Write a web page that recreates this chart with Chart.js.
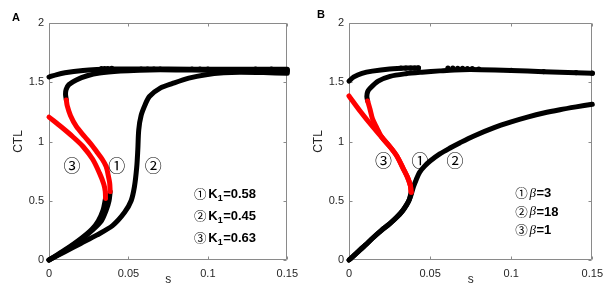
<!DOCTYPE html>
<html><head><meta charset="utf-8">
<script src="https://cdn.jsdelivr.net/npm/chart.js@4.4.1/dist/chart.umd.min.js"></script>
<style>
html,body{margin:0;padding:0;background:#fff;}
#wrap{position:relative;width:610px;height:288px;overflow:hidden;background:#fff;}
canvas{position:absolute;top:0;}
</style></head><body>
<div id="wrap">
<canvas id="ca" width="305" height="288" style="left:0px"></canvas>
<canvas id="cb" width="305" height="288" style="left:305px"></canvas>
</div>
<script>
// ---------- axes ----------
const xTicks = [0, 0.05, 0.1, 0.15];
const xTickLabels = ['0', '0.05', '0.1', '0.15'];
const yTicks = [0, 0.5, 1, 1.5, 2];
const yTickLabels = ['0', '0.5', '1', '1.5', '2'];
const circled = ['\u2460', '\u2461', '\u2462'];

// ---------- Panel A (K1) ----------
const kValues = ['0.58', '0.45', '0.63'];
// curve 1 : K1 = 0.58
const A1_low_s = [0, 0.01, 0.02, 0.028, 0.033, 0.036, 0.0378, 0.0385];
const A1_low_y = [0, 0.08, 0.17, 0.26, 0.33, 0.42, 0.5, 0.577];
const A1_red_s = [0.0385, 0.0382, 0.0372, 0.036, 0.0335, 0.0305, 0.0276, 0.0225, 0.0172, 0.0135, 0.0115, 0.0109];
const A1_red_y = [0.577, 0.65, 0.72, 0.789, 0.85, 0.905, 0.958, 1.04, 1.127, 1.22, 1.3, 1.35];
const A1_up_s = [0.0109, 0.0104, 0.0108, 0.0125, 0.0172, 0.024, 0.0318, 0.045, 0.057, 0.07, 0.09, 0.11, 0.13, 0.15];
const A1_up_y = [1.35, 1.4, 1.44, 1.48, 1.52, 1.555, 1.578, 1.595, 1.602, 1.605, 1.603, 1.6, 1.595, 1.59];
// curve 2 : K1 = 0.45
const A2_s = [0, 0.01, 0.02, 0.03, 0.04, 0.0475, 0.0517, 0.0538, 0.0552, 0.0559, 0.0565, 0.058, 0.0605, 0.0632, 0.07, 0.0778, 0.088, 0.0988, 0.11, 0.12, 0.135, 0.15];
const A2_y = [0, 0.07, 0.14, 0.21, 0.29, 0.4, 0.5, 0.62, 0.78, 0.93, 1.1, 1.22, 1.31, 1.38, 1.45, 1.49, 1.535, 1.564, 1.58, 1.585, 1.582, 1.575];
// curve 3 : K1 = 0.63
const A3_low_s = [0, 0.01, 0.02, 0.027, 0.031, 0.034, 0.0356];
const A3_low_y = [0, 0.085, 0.18, 0.26, 0.33, 0.42, 0.52];
const A3_red_s = [0.0356, 0.0354, 0.0345, 0.0318, 0.0275, 0.0214, 0.015, 0.008, 0];
const A3_red_y = [0.52, 0.58, 0.64, 0.733, 0.85, 0.958, 1.04, 1.12, 1.206];
const A3_up_s = [0, 0.005, 0.01, 0.0214, 0.03, 0.04, 0.06, 0.09, 0.12, 0.15];
const A3_up_y = [1.544, 1.565, 1.58, 1.6, 1.608, 1.612, 1.612, 1.61, 1.61, 1.61];
// marker blobs on the upper branch
const A_dot_s = [0.033, 0.035, 0.037, 0.0395, 0.058, 0.062, 0.066, 0.07, 0.09, 0.095, 0.1, 0.13, 0.14, 0.145, 0.15];
const A_dot_y = [1.615, 1.615, 1.616, 1.617, 1.612, 1.612, 1.612, 1.612, 1.612, 1.612, 1.612, 1.61, 1.61, 1.6, 1.6];

// ---------- Panel B (beta) ----------
const betaValues = ['3', '18', '1'];
// shared lower branch of curves 1 and 3
const B13_low_s = [0, 0.005, 0.01, 0.015, 0.02, 0.025, 0.0294, 0.033, 0.0355, 0.0372, 0.0383];
const B13_low_y = [0, 0.062, 0.125, 0.19, 0.25, 0.305, 0.36, 0.415, 0.465, 0.51, 0.571];
// curve 1 : beta = 3
const B1_red_s = [0.0383, 0.0378, 0.036, 0.0335, 0.0294, 0.025, 0.02, 0.0171, 0.0145, 0.013, 0.0115];
const B1_red_y = [0.571, 0.63, 0.7, 0.77, 0.88, 0.96, 1.04, 1.118, 1.19, 1.27, 1.342];
const B1_up_s = [0.0115, 0.011, 0.0115, 0.013, 0.018, 0.0253, 0.035, 0.045, 0.056, 0.065, 0.075, 0.09, 0.11, 0.13, 0.15];
const B1_up_y = [1.342, 1.38, 1.42, 1.45, 1.51, 1.55, 1.572, 1.585, 1.596, 1.604, 1.607, 1.603, 1.594, 1.585, 1.575];
// curve 2 : beta = 18
const B2_s = [0, 0.005, 0.01, 0.015, 0.02, 0.025, 0.0294, 0.033, 0.0355, 0.0372, 0.0385, 0.0398, 0.0415, 0.0435, 0.0465, 0.05, 0.056, 0.0623, 0.0685, 0.0767, 0.0891, 0.1, 0.11, 0.12, 0.13, 0.14, 0.15];
const B2_y = [0, 0.062, 0.125, 0.19, 0.25, 0.305, 0.36, 0.415, 0.465, 0.51, 0.56, 0.62, 0.68, 0.74, 0.79, 0.835, 0.895, 0.945, 0.99, 1.045, 1.115, 1.165, 1.205, 1.24, 1.268, 1.292, 1.314];
// curve 3 : beta = 1
const B3_red_s = [0.0383, 0.0378, 0.036, 0.0335, 0.0294, 0.025, 0.02, 0.015, 0.0068, 0];
const B3_red_y = [0.571, 0.63, 0.7, 0.77, 0.88, 0.96, 1.04, 1.118, 1.258, 1.384];
const B3_up_s = [0, 0.003, 0.008, 0.0144, 0.025, 0.0356, 0.0428];
const B3_up_y = [1.51, 1.545, 1.575, 1.594, 1.612, 1.62, 1.62];
const B_dot_s = [0.032, 0.035, 0.038, 0.0405, 0.0428, 0.061, 0.064, 0.067, 0.07, 0.073, 0.076, 0.08, 0.1, 0.12, 0.14, 0.15];
const B_dot_y = [1.62, 1.62, 1.62, 1.62, 1.622, 1.62, 1.62, 1.618, 1.618, 1.616, 1.615, 1.612, 1.6, 1.59, 1.582, 1.577];

// ---------- helpers ----------
const pts = (s, y) => s.map((v, i) => ({x: v, y: y[i]}));
const RED = '#ff0000', BLK = '#000000';
function line(s, y, color) {
  return {data: pts(s, y), showLine: true, borderColor: color, backgroundColor: color,
    borderWidth: 5, pointRadius: 0, tension: 0.3, borderCapStyle: 'round',
    borderJoinStyle: 'round', clip: false};
}
function dots(s, y) {
  return {data: pts(s, y), showLine: false, pointRadius: 2.6, pointBorderWidth: 0,
    pointBackgroundColor: BLK, backgroundColor: BLK, borderColor: BLK, clip: false};
}

const FONT = "'Liberation Sans', Arial, Helvetica, sans-serif";
const TXT = '#262626';
const AXC = '#8a8a8a';

const framePlugin = {
  id: 'frame',
  beforeDatasetsDraw(chart) {
    const {ctx, chartArea: ca, scales: {x, y}} = chart;
    const L = Math.round(ca.left) + 0.5, R = Math.round(ca.right) - 0.5;
    const T = Math.round(ca.top) + 0.5, B = Math.round(ca.bottom) - 0.5;
    ctx.save();
    ctx.strokeStyle = AXC; ctx.lineWidth = 1;
    ctx.beginPath();
    ctx.rect(L, T, R - L, B - T);
    xTicks.forEach(v => {
      const px = Math.round(x.getPixelForValue(v)) + 0.5;
      ctx.moveTo(px, B); ctx.lineTo(px, B - 3);
      ctx.moveTo(px, T); ctx.lineTo(px, T + 3);
    });
    yTicks.forEach(v => {
      const py = Math.round(y.getPixelForValue(v)) + 0.5;
      ctx.moveTo(L, py); ctx.lineTo(L + 3, py);
      ctx.moveTo(R, py); ctx.lineTo(R - 3, py);
    });
    ctx.stroke();
    ctx.restore();
  }
};

const annotPlugin = {
  id: 'annot',
  afterDraw(chart, args, o) {
    const {ctx, scales: {x, y}} = chart;
    ctx.save();
    ctx.fillStyle = '#000';
    ctx.textBaseline = 'middle';
    // panel letter
    ctx.font = 'bold 11px ' + FONT;
    ctx.textAlign = 'center';
    ctx.fillText(o.letter, o.letterX, o.letterY);
    // curve labels
    ctx.font = "17px 'Noto Sans CJK SC'";
    o.curveLabels.forEach(l => {
      ctx.fillText(l.t, x.getPixelForValue(l.s), y.getPixelForValue(l.v));
    });
    // legend
    o.legendRows.forEach(r => {
      const cx = x.getPixelForValue(o.legendS);
      const cy = y.getPixelForValue(r.v);
      ctx.textAlign = 'center';
      ctx.font = "12.5px 'Noto Sans CJK SC'";
      ctx.fillText(r.c, cx, cy);
      ctx.textAlign = 'left';
      let px = cx + 8;
      r.runs.forEach(run => {
        ctx.font = run.f;
        ctx.fillText(run.t, px, cy + (run.dy || 0));
        px += ctx.measureText(run.t).width + (run.gap || 0);
      });
    });
    ctx.restore();
  }
};

function makeChart(id, datasets, yWidth, annot) {
  return new Chart(document.getElementById(id), {
    type: 'scatter',
    data: {datasets},
    plugins: [framePlugin, annotPlugin],
    options: {
      responsive: false, animation: false, events: [],
      layout: {padding: {left: 0, right: 17, top: 23, bottom: 0}},
      plugins: {legend: {display: false}, tooltip: {enabled: false}, annot},
      scales: {
        x: {
          type: 'linear', min: 0, max: 0.15,
          afterBuildTicks: s => { s.ticks = xTicks.map(v => ({value: v})); },
          afterFit: s => { s.height = 28; },
          ticks: {callback: (v, i) => xTickLabels[i], autoSkip: false, maxRotation: 0,
            font: {family: FONT, size: 11}, color: TXT, padding: 7},
          grid: {display: false, drawTicks: false},
          border: {display: false},
          title: {display: true, text: 's', font: {family: FONT, size: 12}, color: TXT,
            padding: {top: 0, bottom: 1}}
        },
        y: {
          type: 'linear', min: 0, max: 2,
          afterBuildTicks: s => { s.ticks = yTicks.map(v => ({value: v})); },
          afterFit: s => { s.width = yWidth; },
          ticks: {callback: (v, i) => yTickLabels[i], autoSkip: false,
            font: {family: FONT, size: 11}, color: TXT, padding: 5},
          grid: {display: false, drawTicks: false},
          border: {display: false},
          title: {display: true, text: 'CTL', font: {family: FONT, size: 12}, color: TXT,
            padding: {top: yWidth - 38, bottom: 0}}
        }
      }
    }
  });
}

const kRuns = v => [
  {t: 'K', f: 'bold 13px ' + FONT},
  {t: '1', f: 'bold 9px ' + FONT, dy: 4, gap: 0.5},
  {t: '=' + v, f: 'bold 13px ' + FONT}
];
const bRuns = v => [
  {t: '\u03B2', f: "italic 13px 'Liberation Serif', serif", gap: 0.5},
  {t: '=' + v, f: 'bold 13px ' + FONT}
];

makeChart('ca', [
  line(A1_red_s, A1_red_y, RED),
  line(A3_red_s, A3_red_y, RED),
  dots(A_dot_s, A_dot_y),
  line(A1_low_s, A1_low_y, BLK),
  line(A1_up_s, A1_up_y, BLK),
  line(A2_s, A2_y, BLK),
  line(A3_low_s, A3_low_y, BLK),
  line(A3_up_s, A3_up_y, BLK)
], 49, {
  letter: 'A', letterX: 16, letterY: 18,
  curveLabels: [
    {t: circled[2], s: 0.0145, v: 0.8},
    {t: circled[0], s: 0.0427, v: 0.8},
    {t: circled[1], s: 0.0657, v: 0.8}
  ],
  legendS: 0.0952,
  legendRows: [
    {c: circled[0], v: 0.555, runs: kRuns(kValues[0])},
    {c: circled[1], v: 0.37, runs: kRuns(kValues[1])},
    {c: circled[2], v: 0.185, runs: kRuns(kValues[2])}
  ]
});

makeChart('cb', [
  line(B1_red_s, B1_red_y, RED),
  line(B3_red_s, B3_red_y, RED),
  dots(B_dot_s, B_dot_y),
  line(B13_low_s, B13_low_y, BLK),
  line(B1_up_s, B1_up_y, BLK),
  line(B2_s, B2_y, BLK),
  line(B3_up_s, B3_up_y, BLK)
], 44, {
  letter: 'B', letterX: 16, letterY: 15,
  curveLabels: [
    {t: circled[2], s: 0.0212, v: 0.838},
    {t: circled[0], s: 0.0438, v: 0.838},
    {t: circled[1], s: 0.0654, v: 0.838}
  ],
  legendS: 0.1063,
  legendRows: [
    {c: circled[0], v: 0.56, runs: bRuns(betaValues[0])},
    {c: circled[1], v: 0.405, runs: bRuns(betaValues[1])},
    {c: circled[2], v: 0.25, runs: bRuns(betaValues[2])}
  ]
});
</script>
</body></html>
